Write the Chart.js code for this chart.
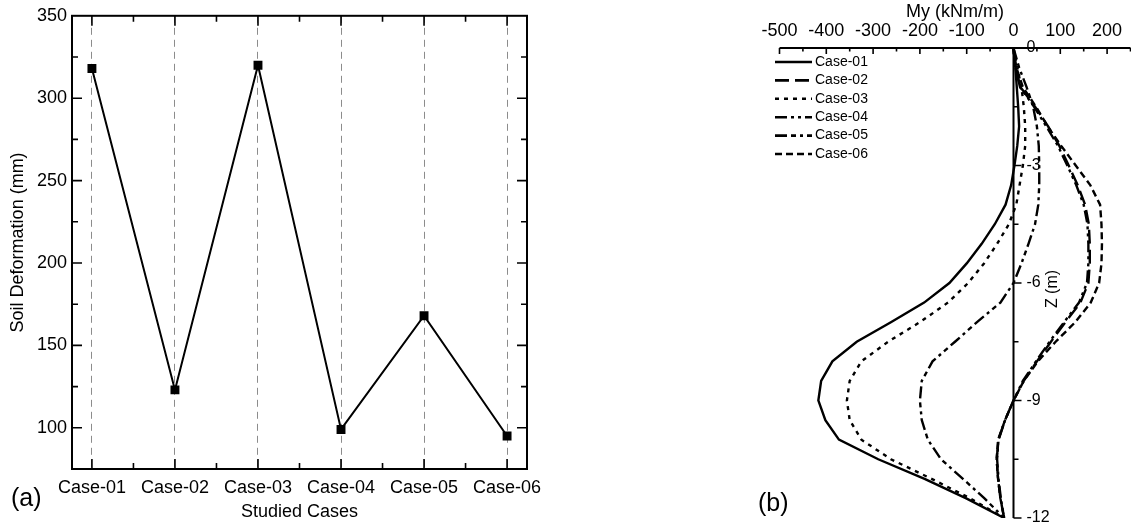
<!DOCTYPE html>
<html>
<head>
<meta charset="utf-8">
<script src="https://cdn.jsdelivr.net/npm/chart.js@4.4.1/dist/chart.umd.min.js"></script>
<style>
body { margin: 0; background: #fff; font-family: "Liberation Sans", Arial, sans-serif; }
#wrap { position: relative; width: 1131px; height: 524px; overflow: hidden; background: #fff; }
canvas { position: absolute; top: 0; }
#chartA { left: 0; }
#chartB { left: 565px; }
.tag { position: absolute; font-size: 25px; line-height: 25px; color: #000; }
</style>
</head>
<body>
<div id="wrap">
  <canvas id="chartA" width="565" height="524"></canvas>
  <canvas id="chartB" width="566" height="524"></canvas>
  <div class="tag" style="left:11px;top:485px">(a)</div>
  <div class="tag" style="left:758px;top:490px">(b)</div>
</div>
<script>
// ---- panel (a) data ----
var cases = ['Case-01', 'Case-02', 'Case-03', 'Case-04', 'Case-05', 'Case-06'];
var deform = [318, 123, 320, 99, 168, 95];
var yTicksA = [100, 150, 200, 250, 300, 350];

// ---- panel (b) data ----
var depth = [0, -0.5, -1, -1.5, -2, -2.5, -3, -3.5, -4, -4.5, -5, -5.5, -6,
             -6.5, -7, -7.5, -8, -8.5, -9, -9.5, -10, -10.5, -11, -11.5, -12];
var my01 = [0, 4, 7, 10, 12, 8, 2, -5, -17, -40, -68, -100, -137, -191, -262, -335, -387, -411, -417, -402, -373, -289, -190, -101, -20];
var my02 = [0, 4, 15, 46, 74, 98, 118, 137, 153, 161, 163, 163, 160, 143, 111, 80, 50, 22, 0, -18, -32, -36, -33, -28, -20];
var my03 = [0, 8, 17, 22, 25, 25, 20, 13, 6, -10, -35, -63, -97, -140, -200, -268, -325, -350, -356, -350, -325, -262, -175, -92, -20];
var my04 = [0, 4, 14, 44, 70, 95, 115, 134, 150, 158, 160, 160, 157, 140, 108, 77, 48, 20, 0, -18, -32, -35, -32, -27, -20];
var my05 = [0, 12, 28, 42, 50, 54, 55, 55, 53, 46, 32, 17, 0, -28, -78, -125, -173, -196, -200, -196, -183, -155, -108, -62, -20];
var my06 = [0, 6, 20, 48, 73, 102, 133, 164, 185, 188, 189, 188, 183, 165, 132, 90, 52, 22, 0, -18, -33, -36, -33, -28, -20];
var xTicksB = [-500, -400, -300, -200, -100, 0, 100, 200];
var zTicks = [0, -3, -6, -9, -12];

Chart.defaults.font.family = '"Liberation Sans", Arial, sans-serif';
Chart.defaults.color = '#000';

// frame + inward ticks for (a)
var frameA = {
    id: 'frameA',
    afterDraw: function (chart) {
        var ctx = chart.ctx, a = chart.chartArea;
        var xs = chart.scales.x, ys = chart.scales.y;
        ctx.save();
        ctx.strokeStyle = '#000';
        ctx.lineWidth = 2;
        ctx.strokeRect(a.left, a.top, a.right - a.left, a.bottom - a.top);
        ctx.lineWidth = 1.6;
        ctx.beginPath();
        for (var i = 0; i < yTicksA.length; i++) {
            var vals = [yTicksA[i], yTicksA[i] - 25];
            for (var k = 0; k < 2; k++) {
                if (vals[k] <= 75 || vals[k] >= 350) continue;
                var len = k === 0 ? 10 : 6;
                var py = ys.getPixelForValue(vals[k]);
                ctx.moveTo(a.left, py); ctx.lineTo(a.left + len, py);
                ctx.moveTo(a.right, py); ctx.lineTo(a.right - len, py);
            }
        }
        for (var j = 0; j < cases.length; j++) {
            var xv = [j, j + 0.5];
            for (var m = 0; m < 2; m++) {
                if (xv[m] > cases.length - 1) continue;
                var l2 = m === 0 ? 10 : 6;
                var px = xs.getPixelForValue(xv[m]);
                ctx.moveTo(px, a.top); ctx.lineTo(px, a.top + l2);
                ctx.moveTo(px, a.bottom); ctx.lineTo(px, a.bottom - l2);
            }
        }
        ctx.stroke();
        ctx.restore();
    }
};

new Chart(document.getElementById('chartA'), {
    type: 'line',
    data: {
        datasets: [{
            label: 'Soil Deformation',
            data: deform.map(function (v, i) { return { x: i, y: v }; }),
            borderColor: '#000',
            backgroundColor: '#000',
            borderWidth: 2,
            pointStyle: 'rect',
            pointRadius: 6.3,
            pointBorderWidth: 0,
            tension: 0
        }]
    },
    options: {
        responsive: false,
        animation: false,
        devicePixelRatio: 1,
        layout: { padding: { left: 0, top: 15, right: 38, bottom: 0 } },
        plugins: { legend: { display: false }, tooltip: { enabled: false } },
        scales: {
            x: {
                type: 'linear',
                min: -0.24,
                max: 5.24,
                afterBuildTicks: function (s) { s.ticks = cases.map(function (c, i) { return { value: i }; }); },
                afterFit: function (s) { s.height = 55; },
                ticks: {
                    callback: function (v) { return cases[v]; },
                    font: { size: 18 }, padding: 8, maxRotation: 0, autoSkip: false
                },
                grid: { display: true, color: '#8c8c8c', lineWidth: 1, drawTicks: false },
                border: { display: false, dash: [7, 5] },
                title: { display: true, text: 'Studied Cases', font: { size: 18 }, padding: { top: 0, bottom: 1 } }
            },
            y: {
                type: 'linear',
                min: 75,
                max: 350,
                afterBuildTicks: function (s) { s.ticks = yTicksA.map(function (v) { return { value: v }; }); },
                afterFit: function (s) { s.width = 72; },
                ticks: { font: { size: 18 }, padding: 5 },
                grid: { display: false, drawTicks: false },
                border: { display: false },
                title: { display: true, text: 'Soil Deformation (mm)', font: { size: 18 }, padding: { top: 7, bottom: 0 } }
            }
        }
    },
    plugins: [frameA]
});

// ---- panel (b) ----
var series = [my01, my02, my03, my04, my05, my06];
var dashes = [[], [14, 6], [4, 5], [12, 4, 3, 4, 3, 4], [12, 4, 5, 4, 3, 4], [7, 4]];

var axesB = {
    id: 'axesB',
    afterDraw: function (chart) {
        var ctx = chart.ctx;
        var xs = chart.scales.x, ys = chart.scales.y;
        var top = ys.getPixelForValue(0), bot = ys.getPixelForValue(-12);
        var x0 = xs.getPixelForValue(0);
        ctx.save();
        ctx.strokeStyle = '#000';
        ctx.fillStyle = '#000';
        ctx.lineWidth = 2;
        ctx.beginPath();
        ctx.moveTo(xs.left, top); ctx.lineTo(xs.right, top);
        ctx.moveTo(x0, top); ctx.lineTo(x0, bot);
        ctx.stroke();
        ctx.lineWidth = 1.6;
        ctx.beginPath();
        for (var i = 0; i < xTicksB.length; i++) {
            var pv = xs.getPixelForValue(xTicksB[i]);
            ctx.moveTo(pv, top); ctx.lineTo(pv, top + 6);
            var pm = xs.getPixelForValue(xTicksB[i] + 50);
            ctx.moveTo(pm, top); ctx.lineTo(pm, top + 3.5);
        }
        for (var k = 0; k < zTicks.length; k++) {
            var pz = ys.getPixelForValue(zTicks[k]);
            ctx.moveTo(x0, pz); ctx.lineTo(x0 + 8, pz);
            if (k > 0) {
                var ph = ys.getPixelForValue(zTicks[k] + 1.5);
                ctx.moveTo(x0, ph); ctx.lineTo(x0 + 5, ph);
            }
        }
        ctx.stroke();
        ctx.font = '16px "Liberation Sans", Arial, sans-serif';
        ctx.textAlign = 'left';
        ctx.textBaseline = 'middle';
        for (var n = 0; n < zTicks.length; n++) {
            ctx.fillText(String(zTicks[n]), x0 + 13, ys.getPixelForValue(zTicks[n]));
        }
        // Z axis title
        ctx.save();
        ctx.translate(x0 + 39, ys.getPixelForValue(-6) + 6);
        ctx.rotate(-Math.PI / 2);
        ctx.textAlign = 'center';
        ctx.font = '16px "Liberation Sans", Arial, sans-serif';
        ctx.fillText('Z (m)', 0, 0);
        ctx.restore();
        // legend
        ctx.font = '14px "Liberation Sans", Arial, sans-serif';
        var lx = xs.left - 4.5;
        chart.data.datasets.forEach(function (ds, d) {
            var ly = 62 + d * 18.4;
            ctx.setLineDash(ds.borderDash);
            ctx.lineWidth = 2.6;
            ctx.beginPath();
            ctx.moveTo(lx, ly); ctx.lineTo(lx + 37, ly);
            ctx.stroke();
            ctx.setLineDash([]);
            ctx.fillText(ds.label, lx + 40, ly);
        });
        ctx.restore();
    }
};

new Chart(document.getElementById('chartB'), {
    type: 'line',
    data: {
        datasets: series.map(function (s, i) {
            return {
                label: cases[i],
                data: s.map(function (v, j) { return { x: v, y: depth[j] }; }),
                borderColor: '#000',
                borderWidth: 2.4,
                borderDash: dashes[i],
                pointRadius: 0,
                fill: false,
                tension: 0
            };
        })
    },
    options: {
        responsive: false,
        animation: false,
        devicePixelRatio: 1,
        layout: { padding: { left: 214.5, top: 0, right: 0.5, bottom: 6 } },
        plugins: { legend: { display: false }, tooltip: { enabled: false } },
        scales: {
            x: {
                type: 'linear',
                position: 'top',
                min: -500,
                max: 250,
                afterBuildTicks: function (s) { s.ticks = xTicksB.map(function (v) { return { value: v }; }); },
                afterFit: function (s) { s.height = 48; },
                ticks: { font: { size: 18 }, padding: 6, maxRotation: 0, autoSkip: false },
                grid: { display: false, drawTicks: false },
                border: { display: false },
                title: { display: true, text: 'My (kNm/m)', font: { size: 18 }, padding: { top: 1, bottom: 0 } }
            },
            y: {
                type: 'linear',
                min: -12,
                max: 0,
                display: false
            }
        }
    },
    plugins: [axesB]
});
</script>
</body>
</html>
